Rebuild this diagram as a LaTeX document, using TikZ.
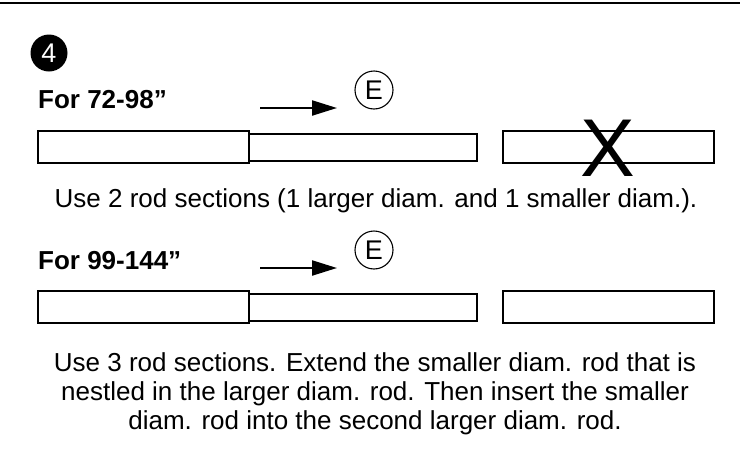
\documentclass[tikz,border=0pt]{standalone}
\usepackage{fontspec}
\setmainfont{Liberation Sans}
\usepackage{xcolor}
\usetikzlibrary{arrows.meta, positioning}

\begin{document}
\begin{tikzpicture}[x=1pt, y=-1pt,
        every node/.style={font=\fontsize{26}{29}\selectfont, inner sep=0pt},
        rodbig/.style={draw, line width=1.3pt, minimum width=211pt, minimum height=32pt},
        rodsmall/.style={draw, line width=1.3pt, minimum width=228pt, minimum height=27pt},
        pushto/.style={-{Triangle[length=25pt, width=15pt]}, line width=2.2pt}]
        \useasboundingbox (0,0) rectangle (740,461);
        % Top rule
        \coordinate (TL) at (0,2.5); \coordinate (TR) at (740,2.5);
        \draw[line width=2pt] (TL) -- (TR);
        
        % Step number
        \node[circle, fill=black, text=white, minimum size=37pt, font=\fontsize{27}{27}\selectfont] (STEP) at (49,53) {4};
        
        % For 72-98
        \node[anchor=base west, font=\fontsize{26}{26}\selectfont\bfseries] (HA) at (38,108) {For 72-98”};
        \coordinate (A1) at (260,108); \coordinate (A2) at (337,108);
        \draw[pushto] (A1) -- (A2);
        \node[circle, draw, line width=1.1pt, minimum size=38pt, font=\fontsize{27}{27}\selectfont] (EA) at (374,90) {E};
        \node[rodbig] (RA1) at (143.5,147) {};
        \node[rodsmall] (RA2) at (363,147.5) {};
        \node[rodbig] (RA3) at (608.5,147) {};
        \node[font=\fontsize{82}{82}\selectfont] (XA) at (608,148.5) {X};
        \node[anchor=base] (TA) at (376,207) {Use 2 rod sections (1 larger diam. and 1 smaller diam.).};
        
        % For 99-144
        \node[anchor=base west, font=\fontsize{26}{26}\selectfont\bfseries] (HB) at (38,269) {For 99-144”};
        \coordinate (B1) at (260,268); \coordinate (B2) at (337,268);
        \draw[pushto] (B1) -- (B2);
        \node[circle, draw, line width=1.1pt, minimum size=38pt, font=\fontsize{27}{27}\selectfont] (EB) at (374,250) {E};
        \node[rodbig] (RB1) at (143.5,307) {};
        \node[rodsmall] (RB2) at (363,307.5) {};
        \node[rodbig] (RB3) at (608.5,307) {};
        \node[anchor=base, align=center] (TB) at (375,429) {Use 3 rod sections. Extend the smaller diam. rod that is\\nestled in the larger diam. rod. Then insert the smaller\\diam. rod into the second larger diam. rod.};
        
    \end{tikzpicture}
\end{document}
